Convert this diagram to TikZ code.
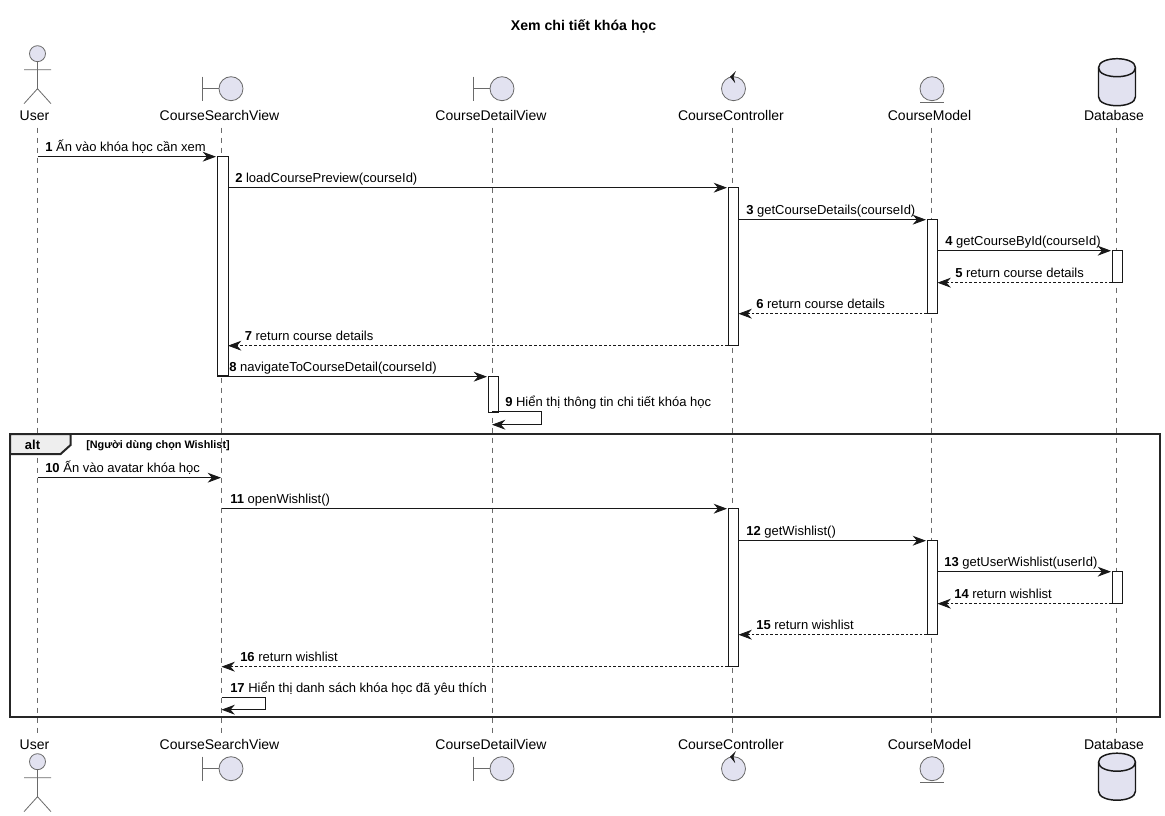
\documentclass[tikz,border=0pt]{standalone}
\usepackage{fontspec}
\setmainfont{Liberation Sans}
\usetikzlibrary{arrows.meta}
\definecolor{partfill}{HTML}{E2E2F0}
\definecolor{ink}{HTML}{181818}
\definecolor{lifegrey}{HTML}{6A6A6A}
\definecolor{tabfill}{HTML}{EEEEEE}
\tikzset{
  x=0.75pt,y=-0.75pt,
  openhead/.style={-{Stealth[length=10pt,width=7.4pt,inset=3.2pt,color=ink]}},
  msgline/.style={draw=ink,line width=0.75pt,openhead},
  retline/.style={draw=ink,line width=0.6pt,dash pattern=on 2pt off 1.5pt,openhead},
  lifeline/.style={draw=lifegrey,line width=0.5pt,dash pattern=on 3.75pt off 3.75pt},
  activation/.style={draw=ink,fill=white,line width=0.75pt},
  partname/.style={font=\fontsize{10.5pt}{12pt}\selectfont,text=black,inner sep=0pt,anchor=base},
  msgtext/.style={font=\fontsize{9.75pt}{12pt}\selectfont,text=black,inner sep=0pt,anchor=base west},
  icon/.style={draw=lifegrey,fill=partfill,line width=0.6pt},
  iconline/.style={draw=lifegrey,line width=0.6pt},
  framebox/.style={draw=black!85,line width=1.5pt},
}
% name, x1, x2, y, label x, number, text, style
\newcommand{\msgarrow}[8]{%
  \coordinate (m#1a) at (#2,#4);
  \coordinate (m#1b) at (#3,#4);
  \draw[#8] (m#1a) -- (m#1b);
  \node[msgtext] (t#1) at (#5,#4-5) {\textbf{#6} #7};
}
% name, x1, x2, y-top, y-bottom, label x, number, text
\newcommand{\selfarrow}[8]{%
  \coordinate (m#1a) at (#2,#4);
  \coordinate (m#1c) at (#3,#5);
  \coordinate (m#1b) at (#2,#5);
  \draw[msgline] (m#1a) -- (m#1a -| m#1c) -- (m#1c) -- (m#1b);
  \node[msgtext] (t#1) at (#6,#4-5) {\textbf{#7} #8};
}
\newcommand{\actorfig}[2]{% x, head y
  \draw[icon] (#1,#2) circle[radius=8];
  \draw[iconline] (#1,#2+8) -- (#1,#2+35) (#1-13.5,#2+16) -- (#1+13.5,#2+16)
     (#1-13.5,#2+50) -- (#1,#2+35) -- (#1+13.5,#2+50);
}
\newcommand{\boundaryfig}[2]{% x lifeline, y
  \draw[iconline] (#1-18.5,#2-12) -- (#1-18.5,#2+12) (#1-18.5,#2) -- (#1-2,#2);
  \draw[icon] (#1+10,#2) circle[radius=12];
}
\newcommand{\controlfig}[2]{%
  \draw[icon] (#1+1.5,#2) circle[radius=12];
  \fill[ink] (#1-2,#2-12) -- (#1+3.8,#2-17.5) -- (#1+1.5,#2-12) -- (#1+3.2,#2-5.5) -- cycle;
}
\newcommand{\entityfig}[2]{%
  \draw[icon] (#1+1,#2) circle[radius=12];
  \draw[iconline] (#1-11,#2+14) -- (#1+13,#2+14);
}
\newcommand{\dbfig}[2]{% x, top y
  \draw[draw=ink,fill=partfill,line width=1.1pt] (#1-18.5,#2+9) .. controls (#1-18.5,#2-3) and (#1+18.5,#2-3) .. (#1+18.5,#2+9)
    -- (#1+18.5,#2+38) .. controls (#1+18.5,#2+50) and (#1-18.5,#2+50) .. (#1-18.5,#2+38) -- cycle;
  \draw[draw=ink,line width=1.1pt] (#1-18.5,#2+9) .. controls (#1-18.5,#2+21) and (#1+18.5,#2+21) .. (#1+18.5,#2+9);
}
\begin{document}
\begin{tikzpicture}
\useasboundingbox (0,-0.7) rectangle (1165,815.3);
\fill[white] (0,-0.7) rectangle (1165,815.3);
\node[font=\bfseries\fontsize{10.6pt}{12pt}\selectfont,inner sep=0pt,anchor=base] (title) at (583.5,30) {Xem chi tiết khóa học};
% participant names
\node[partname] (userT) at (34.5,120) {User};
\node[partname] (searchT) at (219.5,120) {CourseSearchView};
\node[partname] (detailT) at (491,120) {CourseDetailView};
\node[partname] (ctrlT) at (731,120) {CourseController};
\node[partname] (modelT) at (929.5,120) {CourseModel};
\node[partname] (dbT) at (1114,120) {Database};
\node[partname] (userB) at (34.5,749) {User};
\node[partname] (searchB) at (219.5,749) {CourseSearchView};
\node[partname] (detailB) at (491,749) {CourseDetailView};
\node[partname] (ctrlB) at (731,749) {CourseController};
\node[partname] (modelB) at (929.5,749) {CourseModel};
\node[partname] (dbB) at (1114,749) {Database};
% lifelines
\coordinate (uA) at (37.5,127); \coordinate (uB) at (37.5,735);
\coordinate (sA) at (221.5,127); \coordinate (sB) at (221.5,735);
\coordinate (dA) at (492,127); \coordinate (dB) at (492,735);
\coordinate (cA) at (732,127); \coordinate (cB) at (732,735);
\coordinate (oA) at (931,127); \coordinate (oB) at (931,735);
\coordinate (bA) at (1116.5,127); \coordinate (bB) at (1116.5,735);
\foreach \l in {u,s,d,c,o,b}{\draw[lifeline] (\l A) -- (\l B);}
% icons
\actorfig{37.5}{53}\actorfig{37.5}{761}
\boundaryfig{221}{88}\boundaryfig{221}{768}
\boundaryfig{492}{88}\boundaryfig{492}{768}
\controlfig{732}{88}\controlfig{732}{768}
\entityfig{931}{88}\entityfig{931}{768}
\dbfig{1117}{58}\dbfig{1117}{752.5}
% activations
\draw[activation] (217,156) rectangle (228,375);
\draw[activation] (728,187) rectangle (738,345);
\draw[activation] (927,219) rectangle (937.5,313);
\draw[activation] (1112,250) rectangle (1122.5,282);
\draw[activation] (488,376) rectangle (498.5,412);
\draw[activation] (728,508) rectangle (738,666);
\draw[activation] (927,540) rectangle (937.5,634);
\draw[activation] (1112,571) rectangle (1122.5,603);
% messages
\msgarrow{1}{37.5}{216}{156}{45}{1}{Ấn vào khóa học cần xem}{msgline}
\msgarrow{2}{228}{727}{187}{235}{2}{loadCoursePreview(courseId)}{msgline}
\msgarrow{3}{738}{926}{219}{746}{3}{getCourseDetails(courseId)}{msgline}
\msgarrow{4}{937.5}{1111}{250}{945}{4}{getCourseById(courseId)}{msgline}
\msgarrow{5}{1112}{937.5}{282}{955}{5}{return course details}{retline}
\msgarrow{6}{927}{738.5}{313}{756}{6}{return course details}{retline}
\msgarrow{7}{728}{228}{345}{244.5}{7}{return course details}{retline}
\msgarrow{8}{217}{487}{376}{229}{8}{navigateToCourseDetail(courseId)}{msgline}
\selfarrow{9}{492}{541}{411}{424}{505}{9}{Hiển thị thông tin chi tiết khóa học}
\msgarrow{10}{37.5}{221}{477}{45}{10}{Ấn vào avatar khóa học}{msgline}
\msgarrow{11}{221.5}{727}{508}{230}{11}{openWishlist()}{msgline}
\msgarrow{12}{738}{926}{540}{746}{12}{getWishlist()}{msgline}
\msgarrow{13}{937.5}{1111}{571}{944}{13}{getUserWishlist(userId)}{msgline}
\msgarrow{14}{1112}{937.5}{603}{954}{14}{return wishlist}{retline}
\msgarrow{15}{927}{738.5}{634}{756}{15}{return wishlist}{retline}
\msgarrow{16}{728}{221.5}{666}{240}{16}{return wishlist}{retline}
\selfarrow{17}{221.5}{265}{697}{709}{230}{17}{Hiển thị danh sách khóa học đã yêu thích}
% alt frame
\draw[framebox,fill=tabfill] (10,433.4) -- (70.5,433.4) -- (70.5,444.4) -- (60.5,453.4) -- (10,453.4) -- cycle;
\draw[framebox] (10,433.4) rectangle (1160,716.4);
\node[font=\bfseries\fontsize{9.75pt}{12pt}\selectfont,inner sep=0pt,anchor=base] (altT) at (32.5,449) {alt};
\node[font=\bfseries\fontsize{8.15pt}{10pt}\selectfont,inner sep=0pt,anchor=base west] (guardT) at (86,448) {[Người dùng chọn Wishlist]};
\end{tikzpicture}
\end{document}
